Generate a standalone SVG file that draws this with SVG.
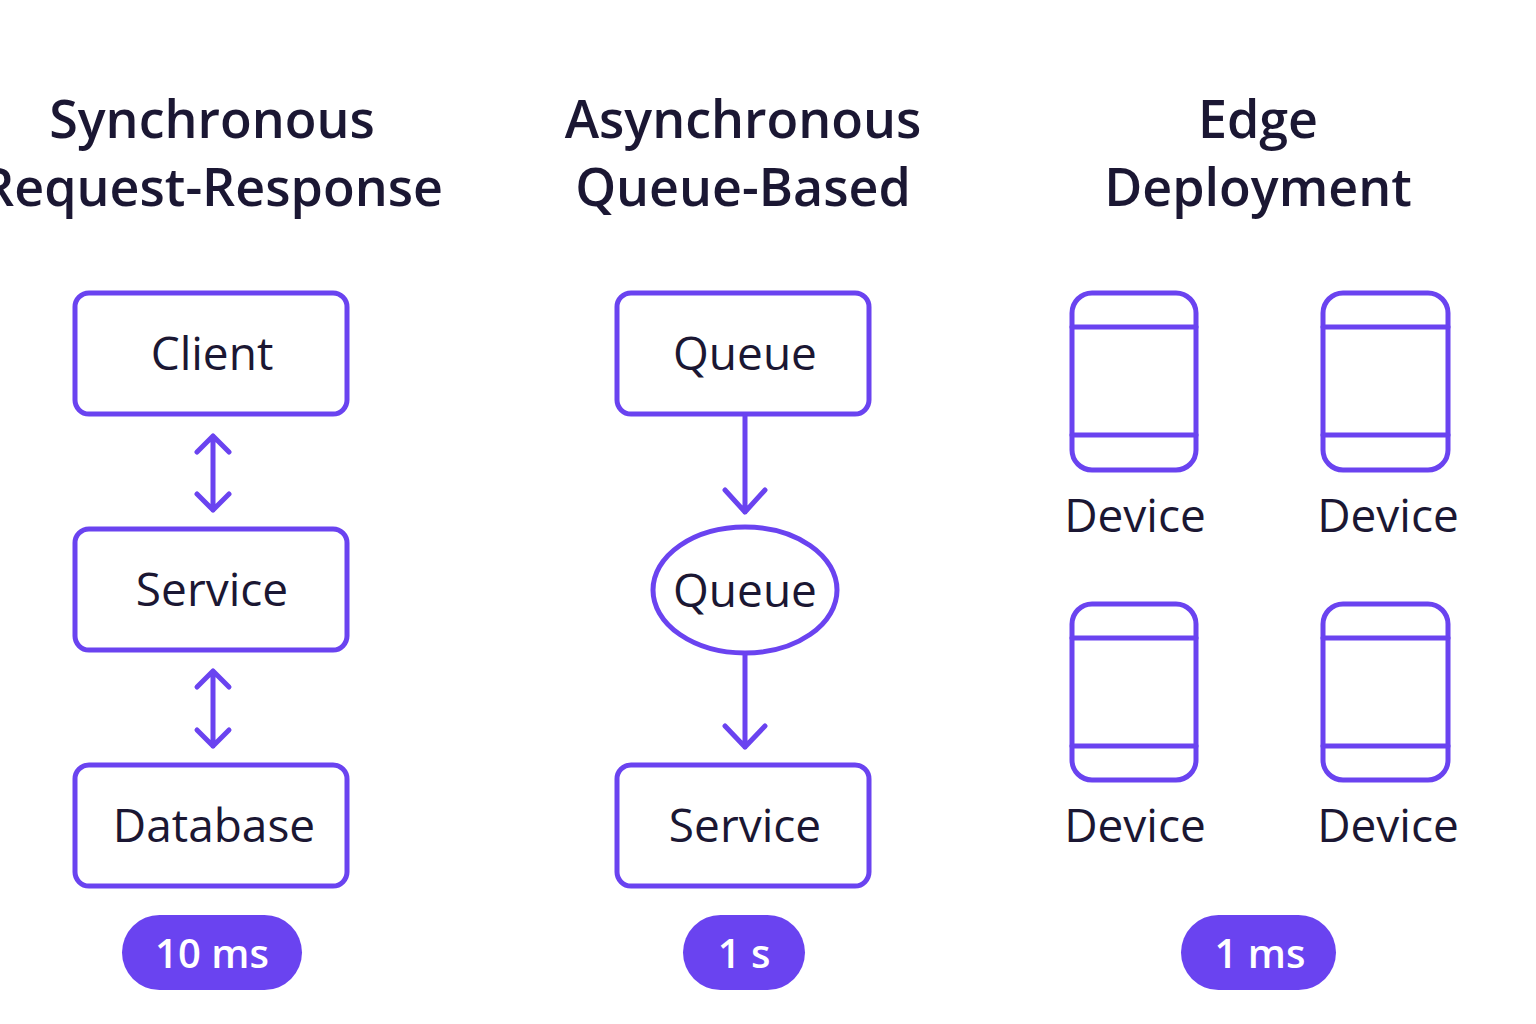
<svg xmlns="http://www.w3.org/2000/svg" width="1536" height="1024" viewBox="0 0 1536 1024">
<defs>
<style>
.t{font-family:"Open Sans","Liberation Sans",sans-serif;fill:#1b1733;text-anchor:middle}
.title{font-size:52px;font-weight:600}
.lbl{font-size:46px;font-weight:500}
.box{fill:#fff;stroke:#6a43f0;stroke-width:5}
.ln{stroke:#6a43f0;stroke-width:5;fill:none;stroke-linecap:round;stroke-linejoin:round}
.pill{fill:#6a43f0}
.pt{font-family:"Open Sans","Liberation Sans",sans-serif;fill:#fff;font-size:40px;font-weight:600;text-anchor:middle}
</style>
</defs>
<rect width="1536" height="1024" fill="#fff"/>
<g id="titles">
<text class="t title" x="212" y="138">Synchronous</text>
<text class="t title" x="212" y="206">Request-Response</text>
<text class="t title" x="743" y="138">Asynchronous</text>
<text class="t title" x="743" y="206">Queue-Based</text>
<text class="t title" x="1258" y="138">Edge</text>
<text class="t title" x="1258" y="206">Deployment</text>
</g>
<g id="client"><rect class="box" x="75" y="293" width="272" height="121" rx="14"/><text class="t lbl" x="212" y="370">Client</text></g>
<g id="service1"><rect class="box" x="75" y="529" width="272" height="121" rx="14"/><text class="t lbl" x="212" y="606">Service</text></g>
<g id="database"><rect class="box" x="75" y="765" width="272" height="121" rx="14"/><text class="t lbl" x="214" y="842">Database</text></g>
<g id="queue1"><rect class="box" x="617" y="293" width="252" height="121" rx="14"/><text class="t lbl" x="745" y="370">Queue</text></g>
<g id="queue2"><ellipse class="box" cx="745" cy="590" rx="92" ry="63"/><text class="t lbl" x="745" y="607">Queue</text></g>
<g id="service2"><rect class="box" x="617" y="765" width="252" height="121" rx="14"/><text class="t lbl" x="745" y="842">Service</text></g>
<g id="connectors">
<path class="ln" d="M213 436V510M197 452L213 436L229 452M197 494L213 510L229 494"/>
<path class="ln" d="M213 671V746M197 687L213 671L229 687M197 730L213 746L229 730"/>
<path class="ln" d="M745 416V512M725 490L745 512L765 490"/>
<path class="ln" d="M745 655V747M725 726L745 747L765 726"/>
</g>
<g id="device1"><rect class="box" x="1072" y="293" width="124" height="177" rx="20"/><path class="ln" d="M1072 327H1196M1072 435H1196"/><text class="t lbl" x="1135" y="532">Device</text></g>
<g id="device2"><rect class="box" x="1323" y="293" width="125" height="177" rx="20"/><path class="ln" d="M1323 327H1448M1323 435H1448"/><text class="t lbl" x="1388" y="532">Device</text></g>
<g id="device3"><rect class="box" x="1072" y="604" width="124" height="176" rx="20"/><path class="ln" d="M1072 638H1196M1072 746H1196"/><text class="t lbl" x="1135" y="842">Device</text></g>
<g id="device4"><rect class="box" x="1323" y="604" width="125" height="176" rx="20"/><path class="ln" d="M1323 638H1448M1323 746H1448"/><text class="t lbl" x="1388" y="842">Device</text></g>
<g id="pill1"><rect class="pill" x="122" y="915" width="180" height="75" rx="37.5"/><text class="pt" x="212" y="968">10 ms</text></g>
<g id="pill2"><rect class="pill" x="683" y="915" width="122" height="75" rx="37.5"/><text class="pt" x="744" y="968">1 s</text></g>
<g id="pill3"><rect class="pill" x="1181" y="915" width="155" height="75" rx="37.5"/><text class="pt" x="1260" y="968">1 ms</text></g>
</svg>
